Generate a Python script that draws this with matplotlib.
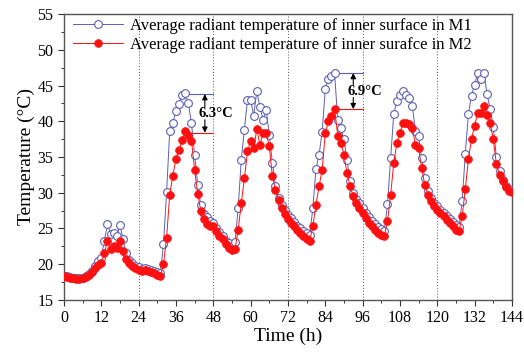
import matplotlib
matplotlib.use("Agg")
import matplotlib.pyplot as plt
from matplotlib.ticker import MultipleLocator

plt.rcParams['font.family'] = ['Liberation Serif', 'DejaVu Serif']
plt.rcParams['mathtext.fontset'] = 'stix'

hours = list(range(0, 145))

m1 = [18.4, 18.3, 18.2, 18.1, 18.0, 18.0, 18.1, 18.3, 18.6, 19.1,
      19.8, 20.4, 20.9, 23.3, 25.6, 24.2, 24.3, 23.9, 25.5, 23.5,
      21.5, 20.6, 20.1, 19.8, 19.6, 19.3, 19.4, 19.3, 19.2, 19.1,
      18.9, 18.8, 22.8, 30.1, 38.6, 39.8, 41.4, 42.4, 43.7, 43.9,
      42.5, 39.7, 35.3, 31.1, 28.3, 27.0, 26.6, 26.1, 25.7, 25.1,
      24.5, 23.9, 23.3, 22.9, 22.6, 23.1, 27.8, 34.6, 38.8, 43.0,
      43.0, 40.8, 44.2, 42.0, 40.2, 41.6, 38.1, 34.2, 31.0, 29.2,
      28.3, 27.6, 26.9, 26.4, 25.9, 25.4, 25.0, 24.6, 24.3, 24.1,
      27.8, 33.3, 35.3, 38.5, 44.5, 45.9, 46.3, 46.7, 40.2, 39.1,
      37.5, 34.6, 31.6, 30.0, 29.1, 28.5, 27.9, 27.2, 26.6, 26.1,
      25.6, 25.2, 24.9, 24.7, 28.4, 34.8, 41.0, 42.8, 43.7, 44.2,
      43.7, 43.2, 42.1, 38.6, 37.9, 34.8, 32.0, 30.2, 29.3, 28.6,
      28.1, 27.6, 27.2, 26.7, 26.3, 25.9, 25.5, 25.2, 28.9, 35.4,
      41.0, 43.6, 45.1, 46.8, 45.9, 46.7, 43.8, 41.7, 39.2, 35.0,
      33.0, 31.8, 30.9, 30.5, 30.3]

m2 = [18.3, 18.2, 18.1, 18.0, 17.9, 17.9, 18.0, 18.2, 18.5, 18.9,
      19.5, 19.9, 20.1, 21.5, 23.3, 22.1, 22.5, 22.2, 23.3, 21.8,
      20.7, 20.1, 19.7, 19.4, 19.2, 19.1, 19.2, 19.0, 18.9, 18.7,
      18.5, 18.3, 20.0, 23.7, 29.7, 32.4, 34.7, 36.0, 37.4, 38.6,
      38.1, 37.3, 33.2, 29.8, 27.5, 26.3, 25.6, 25.4, 25.3, 24.6,
      24.0, 23.5, 22.8, 22.3, 22.0, 22.1, 24.8, 28.5, 32.0, 35.8,
      37.2, 36.2, 38.9, 36.7, 38.3, 38.4, 36.5, 32.3, 30.4, 29.0,
      27.8, 27.0, 26.3, 25.8, 25.3, 24.8, 24.3, 23.9, 23.5, 23.3,
      25.3, 28.3, 30.9, 33.2, 38.3, 40.0, 40.7, 41.7, 38.0, 37.0,
      35.3, 32.7, 30.9, 29.5, 28.5, 27.8, 27.1, 26.4, 25.7, 25.3,
      24.8, 24.4, 24.1, 24.0, 26.0, 29.7, 34.1, 36.9, 38.4, 39.7,
      39.8, 39.6, 39.0, 36.7, 36.2, 33.4, 31.1, 29.7, 28.8, 28.1,
      27.6, 27.1, 26.7, 26.2, 25.7, 25.3, 24.8, 24.6, 26.7, 30.5,
      34.7, 37.5, 39.4, 41.1, 41.1, 42.1, 40.9, 39.7, 37.5, 34.0,
      32.5, 31.6, 30.8, 30.3, 30.1]

label_m1 = "Average radiant temperature of inner surface in M1"
label_m2 = "Average radiant temperature of inner surafce in M2"
day_lines = [24, 48, 72, 96, 120]
xticks = list(range(0, 145, 12))
yticks = list(range(15, 56, 5))

# annotations: (x_peak_m1, m1_peak, x_peak_m2, m2_peak, x_end, x_arrow, text)
ann = [
    (39.4, 43.8, 41.6, 38.4, 48, 45.3, "6.3\u00b0C"),
    (87.1, 46.75, 87.1, 41.7, 96, 93.0, "6.9\u00b0C"),
]

blue = '#5b5fb0'
red = '#ff1010'

fig = plt.figure(figsize=(5.24, 3.52), dpi=100)
ax = fig.add_axes([0.122, 0.148, 0.855, 0.812])

for d in day_lines:
    ax.axvline(d, color='#555555', lw=0.7, ls=(0, (1, 2)), zorder=1)

ax.plot(hours, m1, '-', color=blue, lw=0.7, marker='o', ms=5.6,
        mfc='white', mec=blue, mew=0.8, label=label_m1, zorder=3)
ax.plot(hours, m2, '-', color=red, lw=0.7, marker='o', ms=5.6,
        mfc=red, mec=red, mew=0.5, label=label_m2, zorder=4)

for x1, y1, x2, y2, xe, xa, txt in ann:
    ax.plot([x1, xe], [y1, y1], color=blue, lw=0.8, zorder=2)
    ax.plot([x2, xe], [y2, y2], color=red, lw=0.8, zorder=2)
    ym = (y1 + y2) / 2
    ax.annotate('', xy=(xa, y1), xytext=(xa, ym + 0.9),
                arrowprops=dict(arrowstyle='-|>', color='black', lw=0.8,
                                mutation_scale=8, shrinkA=0, shrinkB=0))
    ax.annotate('', xy=(xa, y2), xytext=(xa, ym - 0.9),
                arrowprops=dict(arrowstyle='-|>', color='black', lw=0.8,
                                mutation_scale=8, shrinkA=0, shrinkB=0))
    ax.text(xa - 2.0, ym, txt, fontsize=10.5, fontweight='bold',
            ha='left', va='center', zorder=6)

ax.set_xlim(0, 144)
ax.set_ylim(15, 55)
ax.set_xticks(xticks)
ax.set_yticks(yticks)
ax.xaxis.set_minor_locator(MultipleLocator(6))
ax.yaxis.set_minor_locator(MultipleLocator(2.5))
ax.tick_params(axis='both', which='major', direction='out', length=4,
               width=0.8, labelsize=11.5, colors='#333333', labelcolor='black')
ax.tick_params(axis='both', which='minor', direction='out', length=2,
               width=0.7, colors='#333333')
for s in ax.spines.values():
    s.set_color('#555555')
    s.set_linewidth(1.0)

ax.set_xlabel('Time (h)', fontsize=14, labelpad=1)
ax.set_ylabel('Temperature (\u00b0C)', fontsize=14, labelpad=2)

ax.legend(loc='upper left', frameon=False, fontsize=12,
          handlelength=3.0, handletextpad=0.4, borderaxespad=0.0,
          labelspacing=0.2, bbox_to_anchor=(0.005, 1.01))

fig.savefig('out.png', dpi=100)
